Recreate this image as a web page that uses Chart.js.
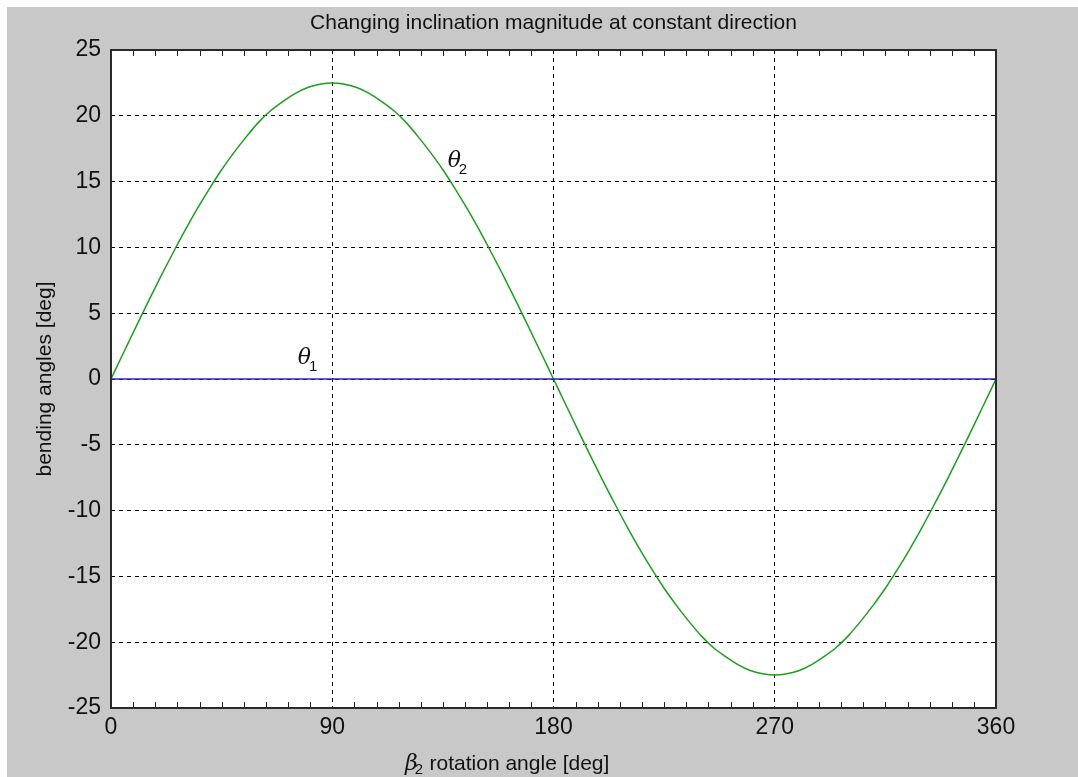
<!DOCTYPE html>
<html lang="en">
<head>
    <meta charset="UTF-8">
    <title>Changing inclination magnitude at constant direction</title>
    <script src="https://cdn.jsdelivr.net/npm/chart.js"></script>
    <style>
        body {
            margin: 0;
            background: #ffffff;
            overflow: hidden;
        }
        .frame {
            position: absolute;
            left: 7px;
            top: 7px;
            width: 1071px;
            height: 770px;
            background: #c8c8c8;
        }
    </style>
</head>
<body>
    <div class="frame">
        <canvas id="plot" width="1071" height="770"></canvas>
    </div>
    <script>
        // values
        const beta = [0, 5, 10, 15, 20, 25, 30, 35, 40, 45, 50, 55, 60, 65, 70, 75, 80, 85, 90,
                      95, 100, 105, 110, 115, 120, 125, 130, 135, 140, 145, 150, 155, 160, 165, 170, 175, 180,
                      185, 190, 195, 200, 205, 210, 215, 220, 225, 230, 235, 240, 245, 250, 255, 260, 265, 270,
                      275, 280, 285, 290, 295, 300, 305, 310, 315, 320, 325, 330, 335, 340, 345, 350, 355, 360];
        const theta2 = [0, 1.96, 3.9, 5.82, 7.7, 9.5, 11.25, 12.9, 14.45, 15.9, 17.2, 18.4, 19.5, 20.4, 21.1, 21.7, 22.15, 22.4, 22.5,
                        22.4, 22.15, 21.7, 21.1, 20.4, 19.5, 18.4, 17.2, 15.9, 14.45, 12.9, 11.25, 9.5, 7.7, 5.82, 3.9, 1.96, 0,
                        -1.96, -3.9, -5.82, -7.7, -9.5, -11.25, -12.9, -14.45, -15.9, -17.2, -18.4, -19.5, -20.4, -21.1, -21.7, -22.15, -22.4, -22.5,
                        -22.4, -22.15, -21.7, -21.1, -20.4, -19.5, -18.4, -17.2, -15.9, -14.45, -12.9, -11.25, -9.5, -7.7, -5.82, -3.9, -1.96, 0];
        const theta1Beta = [0, 360];
        const theta1 = [0, 0];
        const xTicks = [0, 90, 180, 270, 360];
        const yTicks = [-25, -20, -15, -10, -5, 0, 5, 10, 15, 20, 25];

        const labels = [
            { text: 'θ', sub: '1', x: 80, y: 1.6 },
            { text: 'θ', sub: '2', x: 141, y: 16.6 }
        ];

        const sans = '"Liberation Sans", Arial, sans-serif';

        const extras = {
            id: 'extras',
            beforeDraw(chart) {
                const a = chart.chartArea;
                const c = chart.ctx;
                c.save();
                c.fillStyle = '#ffffff';
                c.fillRect(a.left, a.top, a.right - a.left, a.bottom - a.top);
                c.restore();
            },
            afterDraw(chart) {
                const ctx = chart.ctx;
                const a = chart.chartArea;
                const xs = chart.scales.x;
                const ys = chart.scales.y;
                ctx.save();

                // minor ticks on x (top and bottom, pointing inward)
                ctx.strokeStyle = '#222';
                ctx.lineWidth = 1;
                for (let v = 9; v < 360; v += 9) {
                    if (v % 90 === 0) continue;
                    const px = Math.round(xs.getPixelForValue(v)) + 0.5;
                    ctx.beginPath();
                    ctx.moveTo(px, a.bottom);
                    ctx.lineTo(px, a.bottom - 6);
                    ctx.moveTo(px, a.top);
                    ctx.lineTo(px, a.top + 6);
                    ctx.stroke();
                }

                // box
                ctx.strokeStyle = '#2a2a2a';
                ctx.lineWidth = 2;
                ctx.strokeRect(a.left, a.top, a.right - a.left, a.bottom - a.top);

                // title
                ctx.fillStyle = '#111';
                ctx.font = '21px ' + sans;
                ctx.textAlign = 'center';
                ctx.textBaseline = 'middle';
                ctx.fillText('Changing inclination magnitude at constant direction', (a.left + a.right) / 2, 16);

                // theta labels
                ctx.textAlign = 'left';
                ctx.textBaseline = 'alphabetic';
                labels.forEach(l => {
                    const px = xs.getPixelForValue(l.x);
                    const py = ys.getPixelForValue(l.y);
                    ctx.font = 'italic 22px "DejaVu Serif", serif';
                    ctx.fillText(l.text, px - 10, py + 6);
                    const w = ctx.measureText(l.text).width;
                    ctx.font = '15px ' + sans;
                    ctx.fillText(l.sub, px - 10 + w - 2, py + 13);
                });

                // x axis label
                const x0 = a.left + 294;
                const yb = a.bottom + 62;
                ctx.font = 'italic 22px "DejaVu Serif", serif';
                ctx.fillText('β', x0, yb);
                const w = ctx.measureText('β').width;
                ctx.font = '15px ' + sans;
                ctx.fillText('2', x0 + w - 3, yb + 4);
                ctx.font = '21px ' + sans;
                ctx.fillText(' rotation angle [deg]', x0 + w + 6, yb);

                ctx.restore();
            }
        };

        const ctx = document.getElementById('plot').getContext('2d');
        new Chart(ctx, {
            type: 'line',
            data: {
                datasets: [
                    {
                        label: 'theta1',
                        data: theta1Beta.map((b, i) => ({ x: b, y: theta1[i] })),
                        borderColor: '#2828b8',
                        borderWidth: 1.5,
                        pointRadius: 0,
                        tension: 0
                    },
                    {
                        label: 'theta2',
                        data: beta.map((b, i) => ({ x: b, y: theta2[i] })),
                        borderColor: '#1e9e1e',
                        borderWidth: 1.5,
                        pointRadius: 0,
                        cubicInterpolationMode: 'monotone'
                    }
                ]
            },
            options: {
                responsive: false,
                animation: false,
                layout: { padding: { left: 26, right: 82, top: 43, bottom: 0 } },
                plugins: {
                    legend: { display: false },
                    tooltip: { enabled: false }
                },
                scales: {
                    x: {
                        type: 'linear',
                        min: 0,
                        max: 360,
                        afterBuildTicks: s => { s.ticks = xTicks.map(v => ({ value: v })); },
                        afterFit: s => { s.height = 69; },
                        border: { display: false, dash: [4, 4] },
                        grid: {
                            color: '#000',
                            lineWidth: 1,
                            drawTicks: false
                        },
                        ticks: {
                            color: '#111',
                            padding: 6,
                            maxRotation: 0,
                            font: { family: sans, size: 23 }
                        }
                    },
                    y: {
                        min: -25,
                        max: 25,
                        afterBuildTicks: s => { s.ticks = yTicks.map(v => ({ value: v })); },
                        afterFit: s => { s.width = 78; },
                        border: { display: false, dash: [4, 4] },
                        grid: {
                            color: '#000',
                            lineWidth: 1,
                            drawTicks: false
                        },
                        ticks: {
                            color: '#111',
                            padding: 10,
                            font: { family: sans, size: 23 }
                        },
                        title: {
                            display: true,
                            text: 'bending angles [deg]',
                            color: '#111',
                            padding: { top: 0, bottom: 4 },
                            font: { family: sans, size: 21 }
                        }
                    }
                }
            },
            plugins: [extras]
        });
    </script>
</body>
</html>
